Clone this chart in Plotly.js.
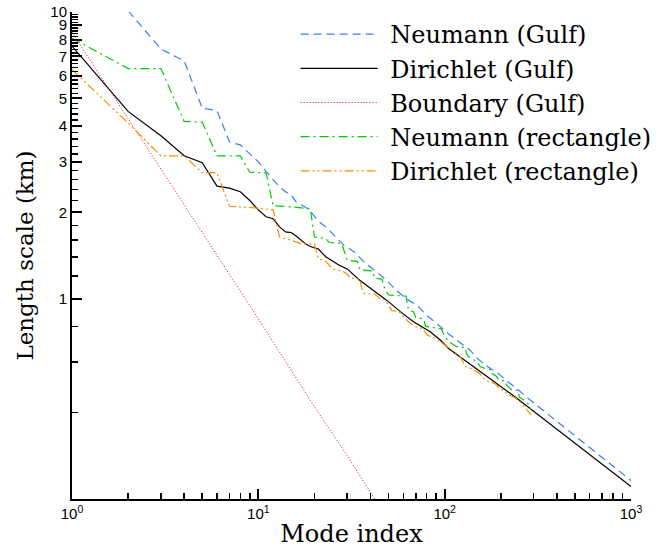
<!DOCTYPE html>
<html><head><meta charset="utf-8">
<script src="https://cdn.plot.ly/plotly-3.0.1.min.js"></script>
<style>html,body{margin:0;padding:0;background:#fff}</style>
</head><body><div id="chart" style="width:670px;height:550px"></div>
<script>
// Neumann (Gulf)
const neumannGulfX = [2,3,4,5,6,7,8,9,10,11,12,13,14,15,16,18,19,21,23,26,29,33,37,42,48,54,62,71,80,91,102,116,137,151,171,194,218,249,280,1000];
const neumannGulfY = [10.1,7.43,6.75,4.62,4.53,3.52,3.44,3.2,3.0,2.78,2.6,2.45,2.36,2.3,2.17,2.08,2.02,1.86,1.78,1.65,1.53,1.45,1.34,1.255,1.17,1.083,1.0,0.948,0.875,0.818,0.765,0.716,0.661,0.615,0.578,0.548,0.513,0.48,0.449,0.232];
// Dirichlet (Gulf)
const dirichletGulfX = [1,2,3,4,5,6,7,8,9,10,11,12,13,14,15,16,18,19,21,23,27,30,35,45,49,58,68,84,95,105,121,239,1000];
const dirichletGulfY = [7.6,4.5,3.7,3.15,2.98,2.47,2.43,2.36,2.2,2.04,1.93,1.9,1.78,1.71,1.7,1.65,1.55,1.52,1.49,1.40,1.31,1.27,1.16,1.027,0.986,0.899,0.83,0.765,0.716,0.67,0.627,0.454,0.221];
// Boundary (Gulf)
const boundaryGulfX = [1,2,3,5,10,20,30,45];
const boundaryGulfY = [8.5,4.25,2.83,1.7,0.85,0.42,0.283,0.187];
// Neumann (rectangle)
const neumannRectX = [1,2,3,4,5,6,8,9,11,12,15,19,20,23,24,28,30,34,35,41,42,46,48,50,62,64,68,70,77,79,96,100,106,112,116,129,131,135,150,155,165,178,180,190,195,211,215,229,249,251,270,280,290];
const neumannRectY = [8.1,6.35,6.35,4.15,4.13,3.15,3.15,2.76,2.75,2.11,2.09,2.06,1.64,1.62,1.57,1.56,1.36,1.35,1.26,1.25,1.18,1.17,1.07,1.03,1.02,0.91,0.90,0.86,0.85,0.80,0.785,0.74,0.706,0.69,0.68,0.675,0.643,0.627,0.60,0.58,0.57,0.565,0.548,0.535,0.52,0.517,0.5,0.48,0.478,0.454,0.44,0.43,0.41];
// Dirichlet (rectangle)
const dirichletRectX = [1,2,3,4,5,6,7,8,10,12,13,14,16,17,20,21,23,25,28,30,31,35,36,37,42,45,48,52,57,64,69,76,81,88,95,101,110,121,129,140,154,165,186,198,224,240,260,290];
const dirichletRectY = [6.3,4.1,3.15,3.15,2.75,2.75,2.1,2.09,2.07,2.04,1.64,1.62,1.57,1.555,1.55,1.38,1.35,1.27,1.25,1.22,1.18,1.17,1.08,1.04,1.04,1.0,0.99,0.91,0.90,0.83,0.80,0.786,0.745,0.73,0.706,0.688,0.66,0.63,0.58,0.57,0.548,0.519,0.506,0.486,0.46,0.45,0.43,0.393];

const seriesNames = ['Neumann (Gulf)','Dirichlet (Gulf)','Boundary (Gulf)','Neumann (rectangle)','Dirichlet (rectangle)'];

// axis ticks
const xTickVals = [1,10,100,1000];
const xTickText = ['10<sup>0</sup>','10<sup>1</sup>','10<sup>2</sup>','10<sup>3</sup>'];
const yTickVals = [1,2,3,4,5,6,7,8,9,10];
const yTickText = ['1','2','3','4','5','6','7','8','9','10'];

const xMinor = [];
[1,10,100].forEach(d => { for (let k = 2; k <= 9; k++) xMinor.push(k*d); });
const yMinor = [];
for (let i = 1; i <= 50; i++) { if (i % 5 !== 0) yMinor.push(Math.round(i*2)/10); }

const pad = '\u00a0';
const traces = [
  {x: neumannGulfX, y: neumannGulfY, name: pad + seriesNames[0], mode:'lines', line:{color:'#3a7dff', width:1.2, dash:'8px,5px'}},
  {x: dirichletGulfX, y: dirichletGulfY, name: pad + seriesNames[1], mode:'lines', line:{color:'#000000', width:1.2}},
  {x: boundaryGulfX, y: boundaryGulfY, name: pad + seriesNames[2], mode:'lines', line:{color:'#ff0000', width:1, dash:'1px,2px'}},
  {x: neumannRectX, y: neumannRectY, name: pad + seriesNames[3], mode:'lines', line:{color:'#00cc00', width:1.2, dash:'9px,4px,2px,4px'}},
  {x: dirichletRectX, y: dirichletRectY, name: pad + seriesNames[4], mode:'lines', line:{color:'#ff8c00', width:1.2, dash:'9px,3px,2px,3px,2px,3px'}}
];

const axisCommon = {
  type:'log', showline:true, linecolor:'#000', linewidth:2, mirror:false,
  showgrid:false, zeroline:false, ticks:'inside', ticklen:10, tickwidth:2, tickcolor:'#000',
  tickmode:'array', tickfont:{family:'Liberation Sans, Arial, sans-serif', size:15, color:'#000'}
};

const layout = {
  width:670, height:550,
  margin:{l:72, r:39, t:12, b:51, pad:0},
  paper_bgcolor:'#fff', plot_bgcolor:'#fff',
  showlegend:true,
  legend:{x:0.4, y:1.0, xanchor:'left', yanchor:'top', bgcolor:'rgba(0,0,0,0)',
          font:{family:'DejaVu Serif', size:24, color:'#000'}, itemwidth:77, tracegroupgap:0},
  xaxis: Object.assign({}, axisCommon, {
    range:[0,3], tickvals:xTickVals, ticktext:xTickText,
    minor:{tickmode:'array', tickvals:xMinor, ticks:'inside', ticklen:6, tickwidth:1.5, tickcolor:'#000', showgrid:false},
    title:{text:'Mode index', font:{family:'DejaVu Serif', size:24, color:'#000'}, standoff:4}
  }),
  yaxis: Object.assign({}, axisCommon, {
    range:[Math.log10(0.2), 1], tickvals:yTickVals, ticktext:yTickText,
    minor:{tickmode:'array', tickvals:yMinor, ticks:'inside', ticklen:6, tickwidth:1.5, tickcolor:'#000', showgrid:false},
    title:{text:'Length scale (km)', font:{family:'DejaVu Serif', size:23, color:'#000'}, standoff:10}
  })
};

Plotly.newPlot('chart', traces, layout, {displayModeBar:false, staticPlot:true});
</script>
</body></html>
